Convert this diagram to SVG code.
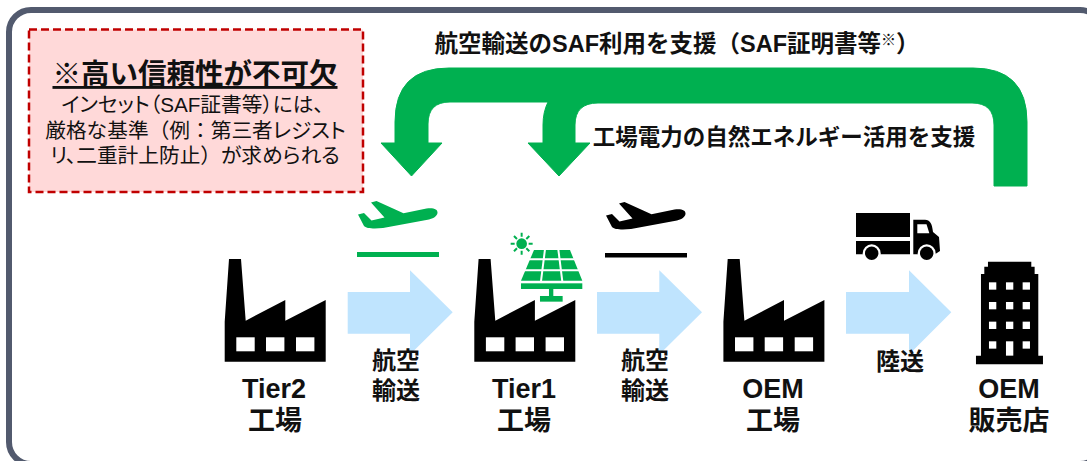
<svg xmlns="http://www.w3.org/2000/svg" width="1087" height="461" viewBox="0 0 1087 461">
<style>
text{font-family:"Liberation Sans","Noto Sans CJK JP",sans-serif;fill:#111;text-anchor:middle}
.b{font-weight:700}
.n{font-size:27px;font-weight:700}
.t{font-size:24px;font-weight:700}
.s{font-size:20.700px}
.p{font-feature-settings:"palt"}
.flow{fill:#bfe4fe}
.g{fill:#00b050}
.k{fill:#000}
.w{fill:#fff}
</style>
<defs>
<g id="factory">
<path class="k" d="M229 259H241L245.700 320.700L285.300 300V320.700L325.700 300V361.700H224.700V321.700Z"/>
<rect class="w" x="236.300" y="337.300" width="18.400" height="14"/>
<rect class="w" x="266" y="337.300" width="18.400" height="14"/>
<rect class="w" x="296" y="337.300" width="18.400" height="14"/>
</g>
<path id="plane" d="M0 13.500L6 12L13.500 19.500L26.500 16.500L13 1.500L18.500 0L45.500 12.300L68.500 7.500C75 6.500 80 8 79.500 12C79 15.500 75 17.500 71 18.500L25 27C16 28 8 27.500 6 25Z"/>
</defs>
<rect x="9" y="10" width="1093" height="454" rx="22" fill="#fff" stroke="#525a6e" stroke-width="6"/>

<g id="connectors">
<path class="g" d="M428 143V124Q428 102 450 102H548Q543 112 543 125V143H528L559 176L590 143H575V125Q575 103 598 103H972Q994 103 994 125V186H1027V122Q1027 68 973 68H449Q395 68 395 122V143H381L411.500 176L442 143Z" stroke="#00b050" stroke-width="1" stroke-linejoin="round"/>
<path class="flow" d="M347.700 292H410V270.300L452.700 312.300L410 354.600V333.700H347.700Z"/>
<path class="flow" d="M597 292H659.300V270.300L702 312.300L659.300 354.600V333.700H597Z"/>
<path class="flow" d="M846 292H909V270.300L951.300 312.300L909 354.600V333.700H846Z"/>
</g>

<g id="note">
<rect x="29" y="29.500" width="334" height="162.500" fill="#ffd9d9" stroke="#c00000" stroke-width="2.500" stroke-dasharray="8 4"/>
<text x="195" y="84" class="b" font-size="28.500" text-decoration="underline">※高い信頼性が不可欠</text>
<text x="192.500" y="112" class="s"><tspan class="p">インセット（</tspan>SAF証書等<tspan class="p">）には、</tspan></text>
<text x="195.500" y="138" class="s">厳格な基準（例：第三者<tspan class="p">レジスト</tspan></text>
<text x="195" y="163" class="s"><tspan class="p">リ、</tspan>二重計上防止）<tspan class="p">が求められる</tspan></text>
</g>

<g id="label-top"><text x="677" y="52" class="b" font-size="23.500">航空輸送のSAF利用を支援（SAF証明書等<tspan font-size="15" dy="-7">※</tspan><tspan dy="7">）</tspan></text></g>
<g id="label-power"><text x="784" y="145" class="b" font-size="22.500">工場電力の自然エネルギー活用を支援</text></g>

<g id="plane-green"><use href="#plane" class="g" x="358" y="201"/><rect class="g" x="357" y="252" width="82" height="5"/></g>
<g id="plane-black"><use href="#plane" class="k" x="606" y="202"/><rect class="k" x="605" y="253" width="82" height="4.500"/></g>

<g id="truck" class="k">
<rect x="856" y="213" width="54" height="24"/>
<path d="M856 241H910V254.300H856Z"/>
<path d="M913.300 219.700H925C930 220 932 223 933 232L939 237L940 251L935 254.300H913.300Z"/>
<path class="w" d="M917.300 224.300H926.500L929.300 233.300H917.300Z"/>
<circle class="w" cx="871.700" cy="253.300" r="9"/>
<circle class="w" cx="926.700" cy="253.300" r="9"/>
<circle cx="871.700" cy="253.300" r="6.700"/>
<circle cx="926.700" cy="253.300" r="6.700"/>
</g>

<g id="tier2"><use href="#factory"/><text x="274" y="398" class="n">Tier2</text><text x="275" y="430" class="n">工場</text></g>

<g id="tier1"><use href="#factory" x="249.600"/><text x="524" y="398" class="n">Tier1</text><text x="524" y="430" class="n">工場</text>
<g transform="translate(340 190) scale(.3333)">
<path class="g" d="M582 180H690L727 272H543Z"/>
<path d="M555 208H715M550 240.500H720M615 178L603 274M655 178L667 274" stroke="#fff" stroke-width="6" fill="none"/>
<rect class="g" x="543" y="280" width="184" height="17"/>
<rect class="g" x="627" y="297" width="13" height="22"/>
<rect class="g" x="600" y="318" width="68" height="17"/>
<circle class="g" cx="545" cy="161" r="16"/>
<path d="M545 128V140M545 182V194M512 161H524M566 161H578M522 138L531 147M559 175L568 184M568 138L559 147M531 175L522 184" stroke="#00b050" stroke-width="6"/>
</g></g>

<g id="oem"><use href="#factory" x="498.700"/><text x="773" y="398" class="n">OEM</text><text x="773" y="430" class="n">工場</text></g>

<g id="dealer">
<g transform="translate(700 190) scale(.3333)">
<path class="k" d="M864 215H994V230H1004V252H1015V497H1029V523H828V497H843V252H853V230H864Z"/>
<g class="w">
<rect x="867" y="277" width="22" height="22"/><rect x="918" y="277" width="22" height="22"/><rect x="968" y="277" width="22" height="22"/>
<rect x="867" y="336" width="22" height="22"/><rect x="918" y="336" width="22" height="22"/><rect x="968" y="336" width="22" height="22"/>
<rect x="867" y="395" width="22" height="22"/><rect x="918" y="395" width="22" height="22"/><rect x="968" y="395" width="22" height="22"/>
<rect x="867" y="454" width="22" height="22"/><rect x="918" y="454" width="22" height="43"/><rect x="968" y="454" width="22" height="22"/>
</g></g>
<text x="1009" y="398" class="n">OEM</text><text x="1009" y="430" class="n">販売店</text></g>

<g id="label-air1"><text x="396" y="369" class="t">航空</text><text x="396" y="399" class="t">輸送</text></g>
<g id="label-air2"><text x="645" y="369" class="t">航空</text><text x="645" y="399" class="t">輸送</text></g>
<g id="label-land"><text x="900" y="370" class="t">陸送</text></g>
</svg>
